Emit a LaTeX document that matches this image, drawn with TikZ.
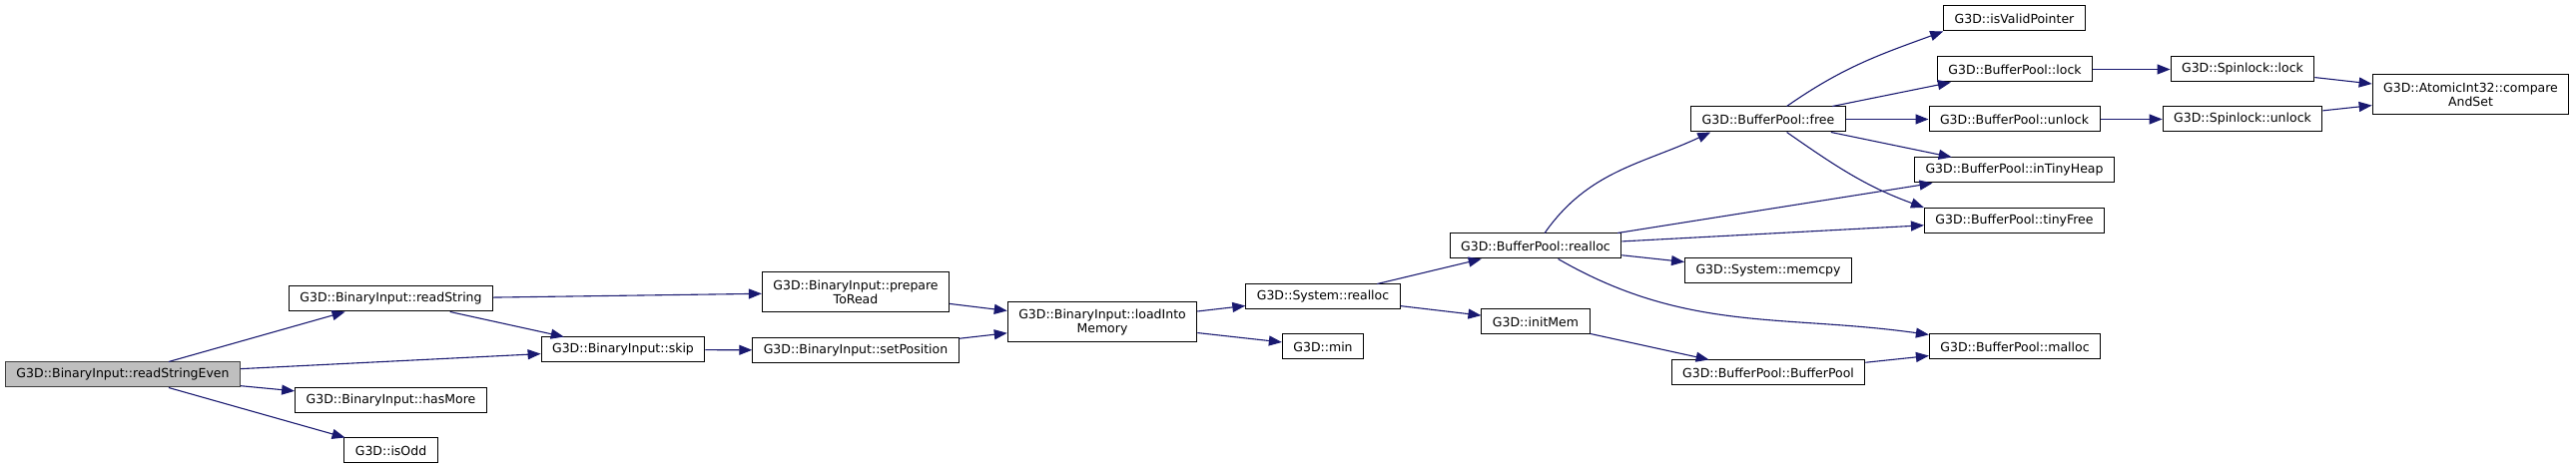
\documentclass[tikz,border=0pt]{standalone}
\usepackage{fontspec}
\setmainfont{DejaVu Sans}
\usepackage{tikz}
\usetikzlibrary{arrows.meta}
\definecolor{callblue}{HTML}{191970}
\definecolor{rootgray}{HTML}{BFBFBF}

\begin{document}
\begin{tikzpicture}[
    x=1pt,y=1pt,
    fn/.style={draw, line width=1pt, font=\fontsize{12.5}{14}\selectfont, inner xsep=11pt, inner ysep=0pt, minimum height=25pt, align=center},
    root/.style={fn, fill=rootgray, draw=black!75},
    call/.style={callblue, line width=1.1pt, -{Triangle[length=13pt,width=10pt]}}
    ]
    \useasboundingbox (0, 0) rectangle (2580, 471);
    \node[root] (rse) at (123, 95.5) {G3D::BinaryInput::readStringEven};
    \node[fn] (rstr) at (391.5, 171.5) {G3D::BinaryInput::readString};
    \node[fn] (more) at (391.5, 70) {G3D::BinaryInput::hasMore};
    \node[fn] (odd) at (391.5, 19.5) {G3D::isOdd};
    \node[fn] (skip) at (624, 120.5) {G3D::BinaryInput::skip};
    \node[fn, minimum height=40pt] (prep) at (857, 178) {G3D::BinaryInput::prepare\\ToRead};
    \node[fn] (setpos) at (857, 120) {G3D::BinaryInput::setPosition};
    \node[fn, minimum height=40pt] (load) at (1104, 148) {G3D::BinaryInput::loadInto\\Memory};
    \node[fn] (sysrealloc) at (1325, 173.5) {G3D::System::realloc};
    \node[fn] (mn) at (1325, 123.5) {G3D::min};
    \node[fn] (bprealloc) at (1538, 224.5) {G3D::BufferPool::realloc};
    \node[fn] (initmem) at (1538, 148.5) {G3D::initMem};
    \node[fn] (bpfree) at (1771, 351.5) {G3D::BufferPool::free};
    \node[fn] (memcpy) at (1771, 199.5) {G3D::System::memcpy};
    \node[fn] (bpctor) at (1771, 97.5) {G3D::BufferPool::BufferPool};
    \node[fn] (valid) at (2017.5, 452.5) {G3D::isValidPointer};
    \node[fn] (bplock) at (2018, 401.5) {G3D::BufferPool::lock};
    \node[fn] (bpunlock) at (2017.5, 351.5) {G3D::BufferPool::unlock};
    \node[fn] (tinyheap) at (2017.5, 300.5) {G3D::BufferPool::inTinyHeap};
    \node[fn] (tinyfree) at (2017.5, 250) {G3D::BufferPool::tinyFree};
    \node[fn] (bpmalloc) at (2018, 123.5) {G3D::BufferPool::malloc};
    \node[fn] (splock) at (2246, 401.5) {G3D::Spinlock::lock};
    \node[fn] (spunlock) at (2246, 351.5) {G3D::Spinlock::unlock};
    \node[fn, minimum height=40pt] (cas) at (2474.5, 376) {G3D::AtomicInt32::compare\\AndSet};
    \draw[call] (rse) -- (rstr);
    \draw[call] (rse) -- (skip);
    \draw[call] (rse) -- (more);
    \draw[call] (rse) -- (odd);
    \draw[call] (rstr) -- (prep);
    \draw[call] (rstr) -- (skip);
    \draw[call] (skip) -- (setpos);
    \draw[call] (prep) -- (load);
    \draw[call] (setpos) -- (load);
    \draw[call] (load) -- (sysrealloc);
    \draw[call] (load) -- (mn);
    \draw[call] (sysrealloc) -- (bprealloc);
    \draw[call] (sysrealloc) -- (initmem);
    \draw[call] (bprealloc) to[out=55, in=205] ([xshift=20pt]bpfree.south west);
    \draw[call] (bprealloc) -- (tinyheap);
    \draw[call] (bprealloc) -- (tinyfree);
    \draw[call] (bprealloc) -- (memcpy);
    \draw[call] (bprealloc) to[out=-30, in=172] (bpmalloc);
    \draw[call] (bpfree) to[out=35, in=200] (valid.south west);
    \draw[call] (bpfree) -- (bplock);
    \draw[call] (bpfree) -- (bpunlock);
    \draw[call] (bpfree) -- (tinyheap);
    \draw[call] (bpfree) to[out=-35, in=160] (tinyfree.north west);
    \draw[call] (bplock) -- (splock);
    \draw[call] (bpunlock) -- (spunlock);
    \draw[call] (splock) -- (cas);
    \draw[call] (spunlock) -- (cas);
    \draw[call] (initmem) -- (bpctor);
    \draw[call] (bpctor) -- (bpmalloc);
  \end{tikzpicture}
\end{document}
